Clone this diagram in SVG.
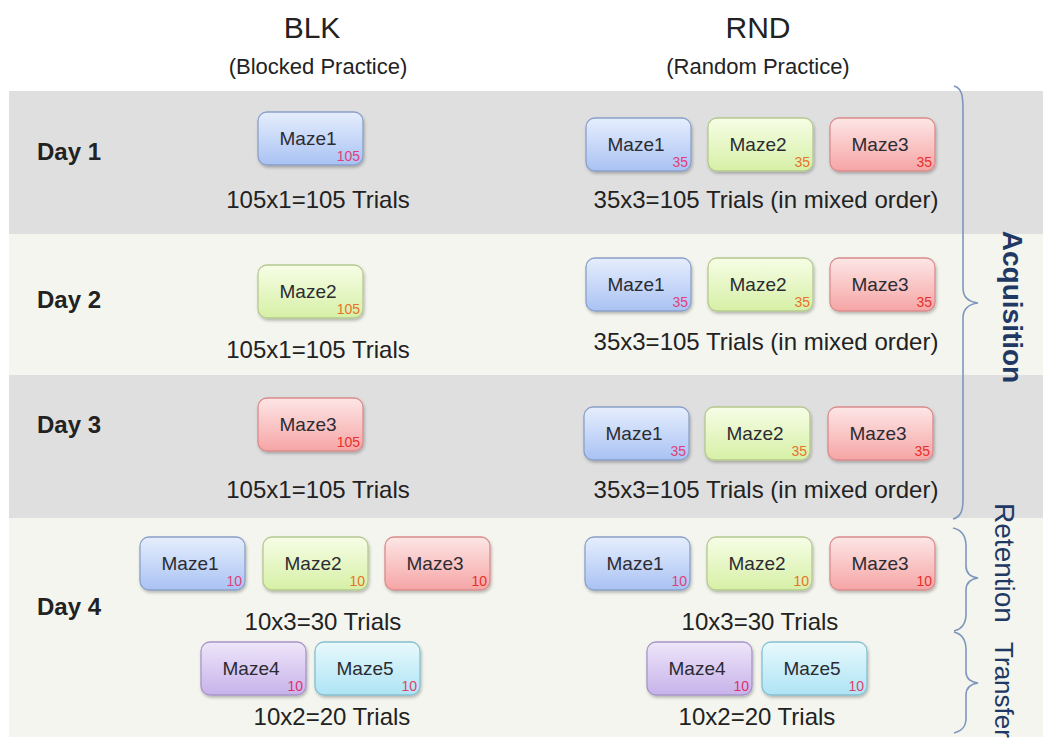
<svg xmlns="http://www.w3.org/2000/svg" width="1043" height="743" viewBox="0 0 1043 743">
<style>
text{font-family:"Liberation Sans",Arial,sans-serif;fill:#222}
.hd{font-size:30px;text-anchor:middle}
.sub{font-size:22px;text-anchor:middle}
.day{font-size:24px;font-weight:bold}
.tr{font-size:24px;text-anchor:middle}
.mz{font-size:19px;text-anchor:middle;fill:#2b2b33}
.n{font-size:14px;text-anchor:end}
.nb{fill:#e0407a}.ng{fill:#e8722a}.nr{fill:#e8302a}.np{fill:#e0306a}.nc{fill:#e0406a}
.box{stroke-width:1.3}
.b{fill:url(#gb);stroke:#8aa0c8}
.g{fill:url(#gg);stroke:#b5c98e}
.r{fill:url(#gr);stroke:#d98c8c}
.p{fill:url(#gp);stroke:#a895c8}
.c{fill:url(#gc);stroke:#86bfd0}
.brace{fill:none;stroke:#7f97bf;stroke-width:1.6}
.side{fill:#1f3864;text-anchor:middle;font-size:28px}
</style>
<defs>
<linearGradient id="gb" x1="0" y1="0" x2="0" y2="1"><stop offset="0" stop-color="#e6eefd"/><stop offset="1" stop-color="#a9c2f3"/></linearGradient>
<linearGradient id="gg" x1="0" y1="0" x2="0" y2="1"><stop offset="0" stop-color="#f7fde6"/><stop offset="1" stop-color="#d6f0a6"/></linearGradient>
<linearGradient id="gr" x1="0" y1="0" x2="0" y2="1"><stop offset="0" stop-color="#fde6e6"/><stop offset="1" stop-color="#f6a5a5"/></linearGradient>
<linearGradient id="gp" x1="0" y1="0" x2="0" y2="1"><stop offset="0" stop-color="#eee6f9"/><stop offset="1" stop-color="#c7b2ea"/></linearGradient>
<linearGradient id="gc" x1="0" y1="0" x2="0" y2="1"><stop offset="0" stop-color="#e8f9fd"/><stop offset="1" stop-color="#aee4f4"/></linearGradient>
<filter id="sh" x="-10%" y="-10%" width="130%" height="140%"><feDropShadow dx="1" dy="2" stdDeviation="1.5" flood-color="#000" flood-opacity="0.25"/></filter>
</defs>

<g id="bands">
<rect x="9" y="91" width="1034" height="143" fill="#dfdfdf"/>
<rect x="9" y="234" width="1034" height="141" fill="#f3f5ee"/>
<rect x="9" y="375" width="1034" height="143" fill="#dfdfdf"/>
<rect x="9" y="518" width="1034" height="219" fill="#f3f5ee"/>
</g>

<g id="headers">
<text class="hd" x="312" y="38">BLK</text>
<text class="sub" x="318" y="74">(Blocked Practice)</text>
<text class="hd" x="758" y="38">RND</text>
<text class="sub" x="758" y="74">(Random Practice)</text>
</g>

<g id="days">
<text class="day" x="37" y="160">Day 1</text>
<text class="day" x="37" y="308">Day 2</text>
<text class="day" x="37" y="433">Day 3</text>
<text class="day" x="37" y="615">Day 4</text>
</g>

<g id="trials">
<text class="tr" x="318" y="208">105x1=105 Trials</text>
<text class="tr" x="766" y="208">35x3=105 Trials (in mixed order)</text>
<text class="tr" x="318" y="358">105x1=105 Trials</text>
<text class="tr" x="766" y="350">35x3=105 Trials (in mixed order)</text>
<text class="tr" x="318" y="498">105x1=105 Trials</text>
<text class="tr" x="766" y="498">35x3=105 Trials (in mixed order)</text>
<text class="tr" x="323" y="630">10x3=30 Trials</text>
<text class="tr" x="332" y="725">10x2=20 Trials</text>
<text class="tr" x="760" y="630">10x3=30 Trials</text>
<text class="tr" x="757" y="725">10x2=20 Trials</text>
</g>

<g id="d1-blk-maze1"><rect class="box b" filter="url(#sh)" x="258" y="112" width="105" height="53" rx="9"/><text class="mz" x="308" y="145">Maze1</text><text class="n nb" x="360" y="161">105</text></g>
<g id="d1-rnd-maze1"><rect class="box b" filter="url(#sh)" x="586" y="118" width="105" height="53" rx="9"/><text class="mz" x="636" y="151">Maze1</text><text class="n nb" x="688" y="167">35</text></g>
<g id="d1-rnd-maze2"><rect class="box g" filter="url(#sh)" x="708" y="118" width="105" height="53" rx="9"/><text class="mz" x="758" y="151">Maze2</text><text class="n ng" x="810" y="167">35</text></g>
<g id="d1-rnd-maze3"><rect class="box r" filter="url(#sh)" x="830" y="118" width="105" height="53" rx="9"/><text class="mz" x="880" y="151">Maze3</text><text class="n nr" x="932" y="167">35</text></g>

<g id="d2-blk-maze2"><rect class="box g" filter="url(#sh)" x="258" y="265" width="105" height="53" rx="9"/><text class="mz" x="308" y="298">Maze2</text><text class="n ng" x="360" y="314">105</text></g>
<g id="d2-rnd-maze1"><rect class="box b" filter="url(#sh)" x="586" y="258" width="105" height="53" rx="9"/><text class="mz" x="636" y="291">Maze1</text><text class="n nb" x="688" y="307">35</text></g>
<g id="d2-rnd-maze2"><rect class="box g" filter="url(#sh)" x="708" y="258" width="105" height="53" rx="9"/><text class="mz" x="758" y="291">Maze2</text><text class="n ng" x="810" y="307">35</text></g>
<g id="d2-rnd-maze3"><rect class="box r" filter="url(#sh)" x="830" y="258" width="105" height="53" rx="9"/><text class="mz" x="880" y="291">Maze3</text><text class="n nr" x="932" y="307">35</text></g>

<g id="d3-blk-maze3"><rect class="box r" filter="url(#sh)" x="258" y="398" width="105" height="53" rx="9"/><text class="mz" x="308" y="431">Maze3</text><text class="n nr" x="360" y="447">105</text></g>
<g id="d3-rnd-maze1"><rect class="box b" filter="url(#sh)" x="584" y="407" width="105" height="53" rx="9"/><text class="mz" x="634" y="440">Maze1</text><text class="n nb" x="686" y="456">35</text></g>
<g id="d3-rnd-maze2"><rect class="box g" filter="url(#sh)" x="705" y="407" width="105" height="53" rx="9"/><text class="mz" x="755" y="440">Maze2</text><text class="n ng" x="807" y="456">35</text></g>
<g id="d3-rnd-maze3"><rect class="box r" filter="url(#sh)" x="828" y="407" width="105" height="53" rx="9"/><text class="mz" x="878" y="440">Maze3</text><text class="n nr" x="930" y="456">35</text></g>

<g id="d4-blk-maze1"><rect class="box b" filter="url(#sh)" x="140" y="537" width="105" height="53" rx="9"/><text class="mz" x="190" y="570">Maze1</text><text class="n nb" x="242" y="586">10</text></g>
<g id="d4-blk-maze2"><rect class="box g" filter="url(#sh)" x="263" y="537" width="105" height="53" rx="9"/><text class="mz" x="313" y="570">Maze2</text><text class="n ng" x="365" y="586">10</text></g>
<g id="d4-blk-maze3"><rect class="box r" filter="url(#sh)" x="385" y="537" width="105" height="53" rx="9"/><text class="mz" x="435" y="570">Maze3</text><text class="n nr" x="487" y="586">10</text></g>
<g id="d4-blk-maze4"><rect class="box p" filter="url(#sh)" x="201" y="642" width="105" height="53" rx="9"/><text class="mz" x="251" y="675">Maze4</text><text class="n np" x="303" y="691">10</text></g>
<g id="d4-blk-maze5"><rect class="box c" filter="url(#sh)" x="315" y="642" width="105" height="53" rx="9"/><text class="mz" x="365" y="675">Maze5</text><text class="n nc" x="417" y="691">10</text></g>

<g id="d4-rnd-maze1"><rect class="box b" filter="url(#sh)" x="585" y="537" width="105" height="53" rx="9"/><text class="mz" x="635" y="570">Maze1</text><text class="n nb" x="687" y="586">10</text></g>
<g id="d4-rnd-maze2"><rect class="box g" filter="url(#sh)" x="707" y="537" width="105" height="53" rx="9"/><text class="mz" x="757" y="570">Maze2</text><text class="n ng" x="809" y="586">10</text></g>
<g id="d4-rnd-maze3"><rect class="box r" filter="url(#sh)" x="830" y="537" width="105" height="53" rx="9"/><text class="mz" x="880" y="570">Maze3</text><text class="n nr" x="932" y="586">10</text></g>
<g id="d4-rnd-maze4"><rect class="box p" filter="url(#sh)" x="647" y="642" width="105" height="53" rx="9"/><text class="mz" x="697" y="675">Maze4</text><text class="n np" x="749" y="691">10</text></g>
<g id="d4-rnd-maze5"><rect class="box c" filter="url(#sh)" x="762" y="642" width="105" height="53" rx="9"/><text class="mz" x="812" y="675">Maze5</text><text class="n nc" x="864" y="691">10</text></g>

<g id="braces">
<path class="brace" d="M954,86 C962,88 963,96 963,110 L963,288 C963,298 970,302 978,303 C970,304 963,308 963,318 L963,500 C963,512 960,517 953,519"/>
<path class="brace" d="M953,528 C962,530 966,536 966,546 L966,566 C966,574 971,577 978,578 C971,579 966,582 966,590 L966,614 C966,624 962,629 954,631"/>
<path class="brace" d="M954,632 C962,634 966,640 966,650 L966,672 C966,679 971,682 978,683 C971,684 966,687 966,695 L966,718 C966,727 962,731 954,733"/>
</g>

<g id="phase-labels">
<text class="side" font-weight="bold" transform="translate(1003,307) rotate(90)">Acquisition</text>
<text class="side" transform="translate(995,563) rotate(90)">Retention</text>
<text class="side" font-size="26" style="font-size:26px" transform="translate(995,690) rotate(90)">Transfer</text>
</g>
</svg>
